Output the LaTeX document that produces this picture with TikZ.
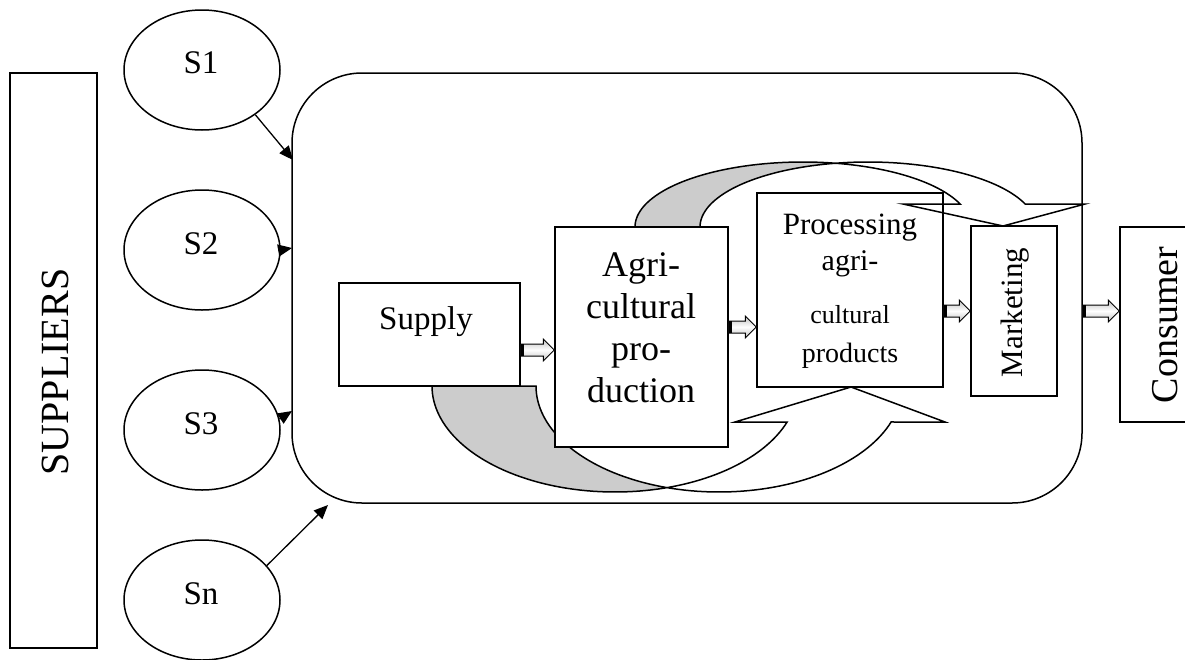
\documentclass[tikz,border=0pt]{standalone}
\usepackage{fontspec}
\setmainfont{Liberation Serif}
\usetikzlibrary{calc,fit,shapes.geometric,arrows.meta}

\tikzset{
  box/.style={draw, line width=1.5pt, fill=white, inner sep=0pt},
  supplier/.style={draw, ellipse, line width=1.5pt, minimum width=156pt, minimum height=120pt, inner sep=0pt},
  feed/.style={line width=1.3pt, -{Triangle[length=14pt,width=12pt]}},
  ribbon/.style={draw, line width=1.5pt, line join=miter},
  twist/.style={fill=black!20},
  flow/.style={draw, line width=1pt, top color=black!25, bottom color=black!25, middle color=white, line join=miter},
  lbl/.style={inner sep=0pt},
}

% hollow block arrow from #1 to #2 (same height)
\newcommand{\flowarrow}[2]{%
  \path[flow] let \p1=(#1), \p2=(#2) in
    (\x1,\y1+6pt) -- (\x2-11pt,\y1+6pt) -- (\x2-11pt,\y1+11pt) -- (\x2,\y1)
    -- (\x2-11pt,\y1-11pt) -- (\x2-11pt,\y1-6pt) -- (\x1,\y1-6pt) -- cycle;
  \draw[line width=3pt] let \p1=(#1) in (\x1+1.5pt,\y1+6pt) -- (\x1+1.5pt,\y1-6pt);}

\begin{document}
\begin{tikzpicture}[x=1pt, y=-1pt]
  \fill[white] (0,0) rectangle (1185,659);
  \useasboundingbox (0,0) rectangle (1185,659);

  % enterprise frame
  \node[draw, line width=1.5pt, rounded corners=70pt, inner sep=0pt,
        fit={(292,73) (1082,503)}] (hub) {};

  % suppliers
  \node[box, fit={(10,73) (97,648)}] (supbox) {};
  \node[lbl, rotate=90, font=\fontsize{40}{48}\selectfont] (suptext) at (55.5,372) {SUPPLIERS};

  \node[supplier] (s1) at (202,70) {};
  \node[supplier] (s2) at (202,250) {};
  \node[supplier] (s3) at (202,430) {};
  \node[supplier] (sn) at (202,600) {};
  \node[lbl, font=\fontsize{33}{40}\selectfont] (s1t) at (201,63) {S1};
  \node[lbl, font=\fontsize{33}{40}\selectfont] (s2t) at (201,244) {S2};
  \node[lbl, font=\fontsize{33}{40}\selectfont] (s3t) at (201,424) {S3};
  \node[lbl, font=\fontsize{33}{40}\selectfont] (snt) at (201,594) {Sn};

  \coordinate (t1) at (293,160);
  \coordinate (t2) at (292,248);
  \coordinate (t3) at (292,411);
  \coordinate (tn) at (328,505);
  \draw[feed] (s1.-40) -- (t1);
  \draw[feed] (s2.east) -- (t2);
  \draw[feed] (s3.8) -- (t3);
  \draw[feed] (sn.28) -- (tn);

  % chain boxes
  \node[box, fit={(339,283) (520,386)}] (supply) {};
  \node[box, fit={(757,193) (943,387)}] (proc) {};
  \node[box, fit={(971,226) (1057,396)}] (mkt) {};
  \node[box, fit={(1120,227) (1200,422)}] (cons) {};

  % upper curved arrow: production -> marketing
  \fill[twist]
    plot[domain=180:78.85, samples=50] ({803+168*cos(\x)},{227-65*sin(\x)})
    -- plot[domain=101.15:180, samples=50] ({868+168*cos(\x)},{227-65*sin(\x)}) -- cycle;
  \draw[ribbon]
    plot[domain=180:20.7, samples=80] ({803+168*cos(\x)},{227-65*sin(\x)})
    -- (903,204) -- (1003,226) -- (1085,204)
    -- plot[domain=20.7:180, samples=80] ({868+168*cos(\x)},{227-65*sin(\x)}) -- cycle;

  % lower curved arrow: supply -> processing
  \fill[twist]
    plot[domain=180:73.5, samples=50] ({615+183*cos(\x)},{386+106*sin(\x)})
    -- plot[domain=106.5:180, samples=50] ({719+183*cos(\x)},{386+106*sin(\x)}) -- cycle;
  \draw[ribbon]
    plot[domain=180:19.85, samples=80] ({615+183*cos(\x)},{386+106*sin(\x)})
    -- (735,422) -- (851,387) -- (945,422)
    -- plot[domain=19.85:180, samples=80] ({719+183*cos(\x)},{386+106*sin(\x)}) -- cycle;

  \node[box, fit={(555,227) (728,447)}] (agri) {};

  % texts
  \node[lbl, font=\fontsize{33}{40}\selectfont] (supplyt) at (426,322) {Supply};
  \node[lbl, align=center, font=\fontsize{36}{42}\selectfont] (agrit) at (641,328)
    {Agri-\\cultural\\pro-\\duction};
  \node[lbl, anchor=base, font=\fontsize{31}{36}\selectfont] (proc1) at (850,234) {Processing};
  \node[lbl, anchor=base, font=\fontsize{30}{36}\selectfont] (proc2) at (850,270) {agri-};
  \node[lbl, anchor=base, font=\fontsize{26}{32}\selectfont] (proc3) at (850,323) {cultural};
  \node[lbl, anchor=base, font=\fontsize{28}{32}\selectfont] (proc4) at (850,362) {products};
  \node[lbl, rotate=90, font=\fontsize{31}{36}\selectfont] (mktt) at (1015,312.5) {Marketing};
  \node[lbl, rotate=90, font=\fontsize{38}{46}\selectfont] (const) at (1165,325) {Consumer};

  % hollow flow arrows
  \coordinate (f1a) at (supply.east |- 0,350);
  \coordinate (f1b) at (agri.west |- 0,350);
  \coordinate (f2a) at (agri.east |- 0,327);
  \coordinate (f2b) at (proc.west |- 0,327);
  \coordinate (f3a) at (proc.east |- 0,311);
  \coordinate (f3b) at (mkt.west |- 0,311);
  \coordinate (f4a) at (hub.east |- 0,311);
  \coordinate (f4b) at (cons.west |- 0,311);
  \flowarrow{f1a}{f1b}
  \flowarrow{f2a}{f2b}
  \flowarrow{f3a}{f3b}
  \flowarrow{f4a}{f4b}
\end{tikzpicture}
\end{document}
